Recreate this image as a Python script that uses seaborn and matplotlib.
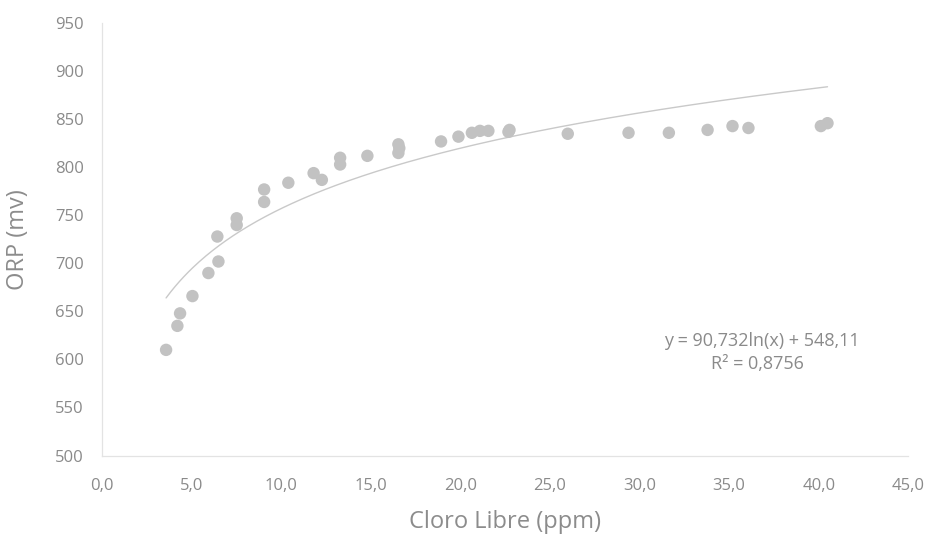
import numpy as np
import pandas as pd
import matplotlib
matplotlib.use('Agg')
import matplotlib.pyplot as plt
import seaborn as sns

# valores
cloro_libre = [3.59, 4.22, 4.37, 5.06, 5.95, 6.51, 6.45, 7.53, 7.53, 9.06, 9.06,
               10.41, 11.82, 12.28, 13.30, 13.30, 14.82, 16.55, 16.55, 16.60,
               18.93, 19.90, 20.65, 21.10, 21.57, 22.69, 22.75, 26.00, 29.39,
               31.64, 33.80, 35.19, 36.08, 40.12, 40.49]
orp_mv = [610, 635, 648, 666, 690, 702, 728, 747, 740, 777, 764,
          784, 794, 787, 810, 803, 812, 824, 815, 820,
          827, 832, 836, 838, 838, 837, 839, 835, 836,
          836, 839, 843, 841, 843, 846]

# linea de tendencia logaritmica (Excel)
coef_a = 90.732
coef_b = 548.11
r2_txt = '0,8756'

x_ticks = [0, 5, 10, 15, 20, 25, 30, 35, 40, 45]
y_ticks = [500, 550, 600, 650, 700, 750, 800, 850, 900, 950]

df = pd.DataFrame({'cloro': cloro_libre, 'orp': orp_mv})
xt = np.linspace(min(cloro_libre), max(cloro_libre), 300)
trend = pd.DataFrame({'x': xt, 'y': coef_a * np.log(xt) + coef_b})

sns.set_style('white')
plt.rcParams['font.family'] = ['Open Sans', 'DejaVu Sans']

fig = plt.figure(figsize=(9.3, 5.38), dpi=100)
ax = fig.add_axes([0.1094, 0.1533, 0.8673, 0.8034])

sns.lineplot(data=trend, x='x', y='y', ax=ax, color='#c9c9c9', lw=1.0)
sns.scatterplot(data=df, x='cloro', y='orp', ax=ax, color='#c2c2c2', s=80,
                edgecolor='none', zorder=3)

ax.set_xlim(0, 45)
ax.set_ylim(500, 950)
ax.set_xticks(x_ticks)
ax.set_xticklabels([f'{v:.1f}'.replace('.', ',') for v in x_ticks])
ax.set_yticks(y_ticks)
ax.tick_params(axis='x', length=0, pad=16, labelsize=12, labelcolor='#8a8a8a')
ax.tick_params(axis='y', length=0, pad=13, labelsize=12, labelcolor='#8a8a8a')

for s in ['top', 'right']:
    ax.spines[s].set_visible(False)
for s in ['left', 'bottom']:
    ax.spines[s].set_color('#e3e3e3')
    ax.spines[s].set_linewidth(0.9)

ax.set_xlabel('Cloro Libre (ppm)', fontsize=17, color='#8c8c8c', labelpad=12)
ax.set_ylabel('ORP (mv)', fontsize=17, color='#8c8c8c', labelpad=18)

ax.text(36.8, 619, 'y = 90,732ln(x) + 548,11', ha='center', va='center',
        fontsize=13, color='#8a8a8a')
ax.text(36.6, 595, 'R² = ' + r2_txt, ha='center', va='center',
        fontsize=13, color='#8a8a8a')

fig.savefig('out.png', dpi=100)
